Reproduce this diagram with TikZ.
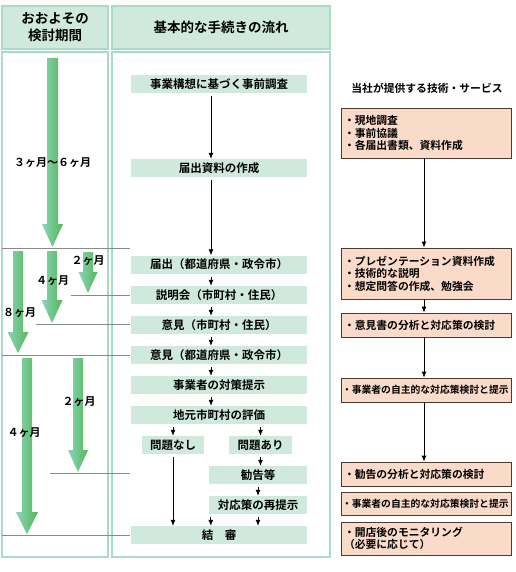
\documentclass[tikz,border=0pt]{standalone}
\usepackage{fontspec}
\setmainfont{Noto Sans CJK JP}[BoldFont={Noto Sans CJK JP Bold}]
\usetikzlibrary{arrows.meta}
\definecolor{mint}{HTML}{CFEADC}
\definecolor{mintline}{HTML}{A8DCC6}
\definecolor{salmon}{HTML}{FADBCA}
\definecolor{salmonline}{HTML}{4A3A30}
\definecolor{gteal}{HTML}{8AD5BA}
\definecolor{ggreen}{HTML}{55B656}
\definecolor{guide}{HTML}{8A8A8A}
\tikzset{
  hdr/.style={draw=mintline, line width=1.2pt, fill=mint, inner sep=0pt,
    font=\bfseries\fontsize{13.5}{17}\selectfont, align=center},
  panel/.style={draw=mintline, line width=1.2pt, fill=white, inner sep=0pt},
  flow/.style={fill=mint, inner sep=0pt, minimum height=18pt,
    font=\bfseries\fontsize{11.5}{13}\selectfont},
  svc/.style={draw=salmonline, line width=0.8pt, fill=salmon, inner ysep=0pt,
    inner xsep=3pt, text width=164pt, align=left,
    font=\bfseries\fontsize{10.8}{12.5}\selectfont},
  svcsmall/.style={svc, inner xsep=1pt, text width=168pt,
    font=\bfseries\fontsize{9.8}{12}\selectfont},
  farrow/.style={-{Latex[length=6pt,width=5pt]}, line width=0.8pt, shorten <=3pt},
  sarrow/.style={-{Latex[length=6pt,width=5pt]}, line width=0.9pt},
  guideline/.style={draw=guide, line width=0.7pt},
  period/.style={inner sep=0pt, font=\bfseries\fontsize{11}{13}\selectfont},
  gfill/.style={left color=gteal, right color=ggreen, draw=none},
  title/.style={inner sep=0pt, font=\bfseries\fontsize{10.8}{13}\selectfont},
}
% centre x, shaft half width, start y, head start y, tip y, head half width
\newcommand\grarrow[6]{%
  \shade[gfill] ({#1-#2},#3) -- ({#1+#2},#3) -- ({#1+#2},#4) -- ({#1+#6},#4)
    -- (#1,#5) -- ({#1-#6},#4) -- ({#1-#2},#4) -- cycle;}
\begin{document}
\begin{tikzpicture}[x=1pt,y=-1pt]
\useasboundingbox (0,0) rectangle (515,572);
\fill[white] (0,0) rectangle (515,572);
% headers
\node[hdr, minimum width=106pt, minimum height=43pt] (hl) at (55,27.5) {おおよその\\検討期間};
\node[hdr, minimum width=218pt, minimum height=43pt] (hr) at (221,27.5) {基本的な手続きの流れ};
% panels
\node[panel, minimum width=106pt, minimum height=505pt] (pl) at (55,304.5) {};
\node[panel, minimum width=218pt, minimum height=505pt] (pr) at (221,304.5) {};
% green period arrows
\grarrow{52.5}{5.5}{58}{224}{247}{10.5}
\grarrow{18}{5}{251}{332}{353}{10.5}
\grarrow{52}{5}{251}{300}{323}{10.5}
\grarrow{88}{5}{252}{272}{293}{9.5}
\grarrow{27}{5}{358}{512}{534}{11}
\grarrow{78}{5}{358}{450}{472}{10}
% guide lines
\coordinate (g1a) at (2,248);  \coordinate (g1b) at (130,248);
\coordinate (g2a) at (71,295); \coordinate (g2b) at (130,295);
\coordinate (g3a) at (36,324); \coordinate (g3b) at (130,324);
\coordinate (g4a) at (2,355);  \coordinate (g4b) at (130,355);
\coordinate (g5a) at (50,473); \coordinate (g5b) at (130,473);
\coordinate (g6a) at (2,535);  \coordinate (g6b) at (130,535);
\draw[guideline] (g1a) -- (g1b);
\draw[guideline] (g2a) -- (g2b);
\draw[guideline] (g3a) -- (g3b);
\draw[guideline] (g4a) -- (g4b);
\draw[guideline] (g5a) -- (g5b);
\draw[guideline] (g6a) -- (g6b);
% period labels
\node[period] (t36) at (52.5,163) {３ヶ月～６ヶ月};
\node[period] (t2a) at (88,261) {２ヶ月};
\node[period] (t4a) at (52.5,281) {４ヶ月};
\node[period] (t8) at (19.5,313) {８ヶ月};
\node[period] (t2b) at (79,402) {２ヶ月};
\node[period] (t4b) at (24,433) {４ヶ月};
% flow
\node[flow, minimum width=176pt] (f1) at (219,84) {事業構想に基づく事前調査};
\node[flow, minimum width=176pt] (f2) at (219,168) {届出資料の作成};
\node[flow, minimum width=176pt] (f3) at (219,264.5) {届出（都道府県・政令市）};
\node[flow, minimum width=176pt] (f4) at (219,295) {説明会（市町村・住民）};
\node[flow, minimum width=176pt] (f5) at (219,325) {意見（市町村・住民）};
\node[flow, minimum width=176pt] (f6) at (219,355) {意見（都道府県・政令市）};
\node[flow, minimum width=176pt] (f7) at (219,385) {事業者の対策提示};
\node[flow, minimum width=176pt] (f8) at (219,415) {地元市町村の評価};
\node[flow, minimum width=62pt] (n1) at (173,445) {問題なし};
\node[flow, minimum width=63pt] (n2) at (260.5,445) {問題あり};
\node[flow, minimum width=98pt] (f9) at (258,475) {勧告等};
\node[flow, minimum width=98pt] (f10) at (258,505) {対応策の再提示};
\node[flow, minimum width=176pt] (f11) at (219,535) {結　審};
\foreach \a/\b in {f1/f2,f2/f3,f3/f4,f4/f5,f5/f6,f6/f7,f7/f8}
  \draw[farrow] ([xshift=-8pt]\a.south) -- ([xshift=-8pt]\b.north);
\draw[farrow] (f8.south -| n1.north) -- (n1.north);
\draw[farrow] (f8.south -| n2.north) -- (n2.north);
\draw[farrow] (n2.south) -- (n2.south |- f9.north);
\draw[farrow] (f9.south) -- (f10.north);
\draw[farrow] (f10.south) -- (f10.south |- f11.north);
\draw[farrow] ([xshift=2pt]f10.south west) -- ([xshift=2pt]f10.south west |- f11.north);
\draw[farrow] (n1.south) -- (n1.south |- f11.north);
% services
\node[title] (st) at (427,88) {当社が提供する技術・サービス};
\node[svc, minimum height=50pt] (s1) at (426,133) {・現地調査\\・事前協議\\・各届出書類、資料作成};
\node[svc, minimum height=51pt] (s2) at (426,273.5) {・プレゼンテーション資料作成\\・技術的な説明\\・想定問答の作成、勉強会};
\node[svc, minimum height=24pt] (s3) at (426,325) {・意見書の分析と対応策の検討};
\node[svcsmall, minimum height=24pt] (s4) at (426,390) {・事業者の自主的な対応策検討と提示};
\node[svc, minimum height=24pt] (s5) at (426,474) {・勧告の分析と対応策の検討};
\node[svcsmall, minimum height=23pt] (s6) at (426,503.5) {・事業者の自主的な対応策検討と提示};
\node[svc, minimum height=33pt] (s7) at (426,538.5) {・開店後のモニタリング\\（必要に応じて）};
\foreach \a/\b in {s1/s2,s2/s3,s3/s4,s4/s5}
  \draw[sarrow] ([xshift=-2pt]\a.south) -- ([xshift=-2pt]\b.north);
\end{tikzpicture}
\end{document}
